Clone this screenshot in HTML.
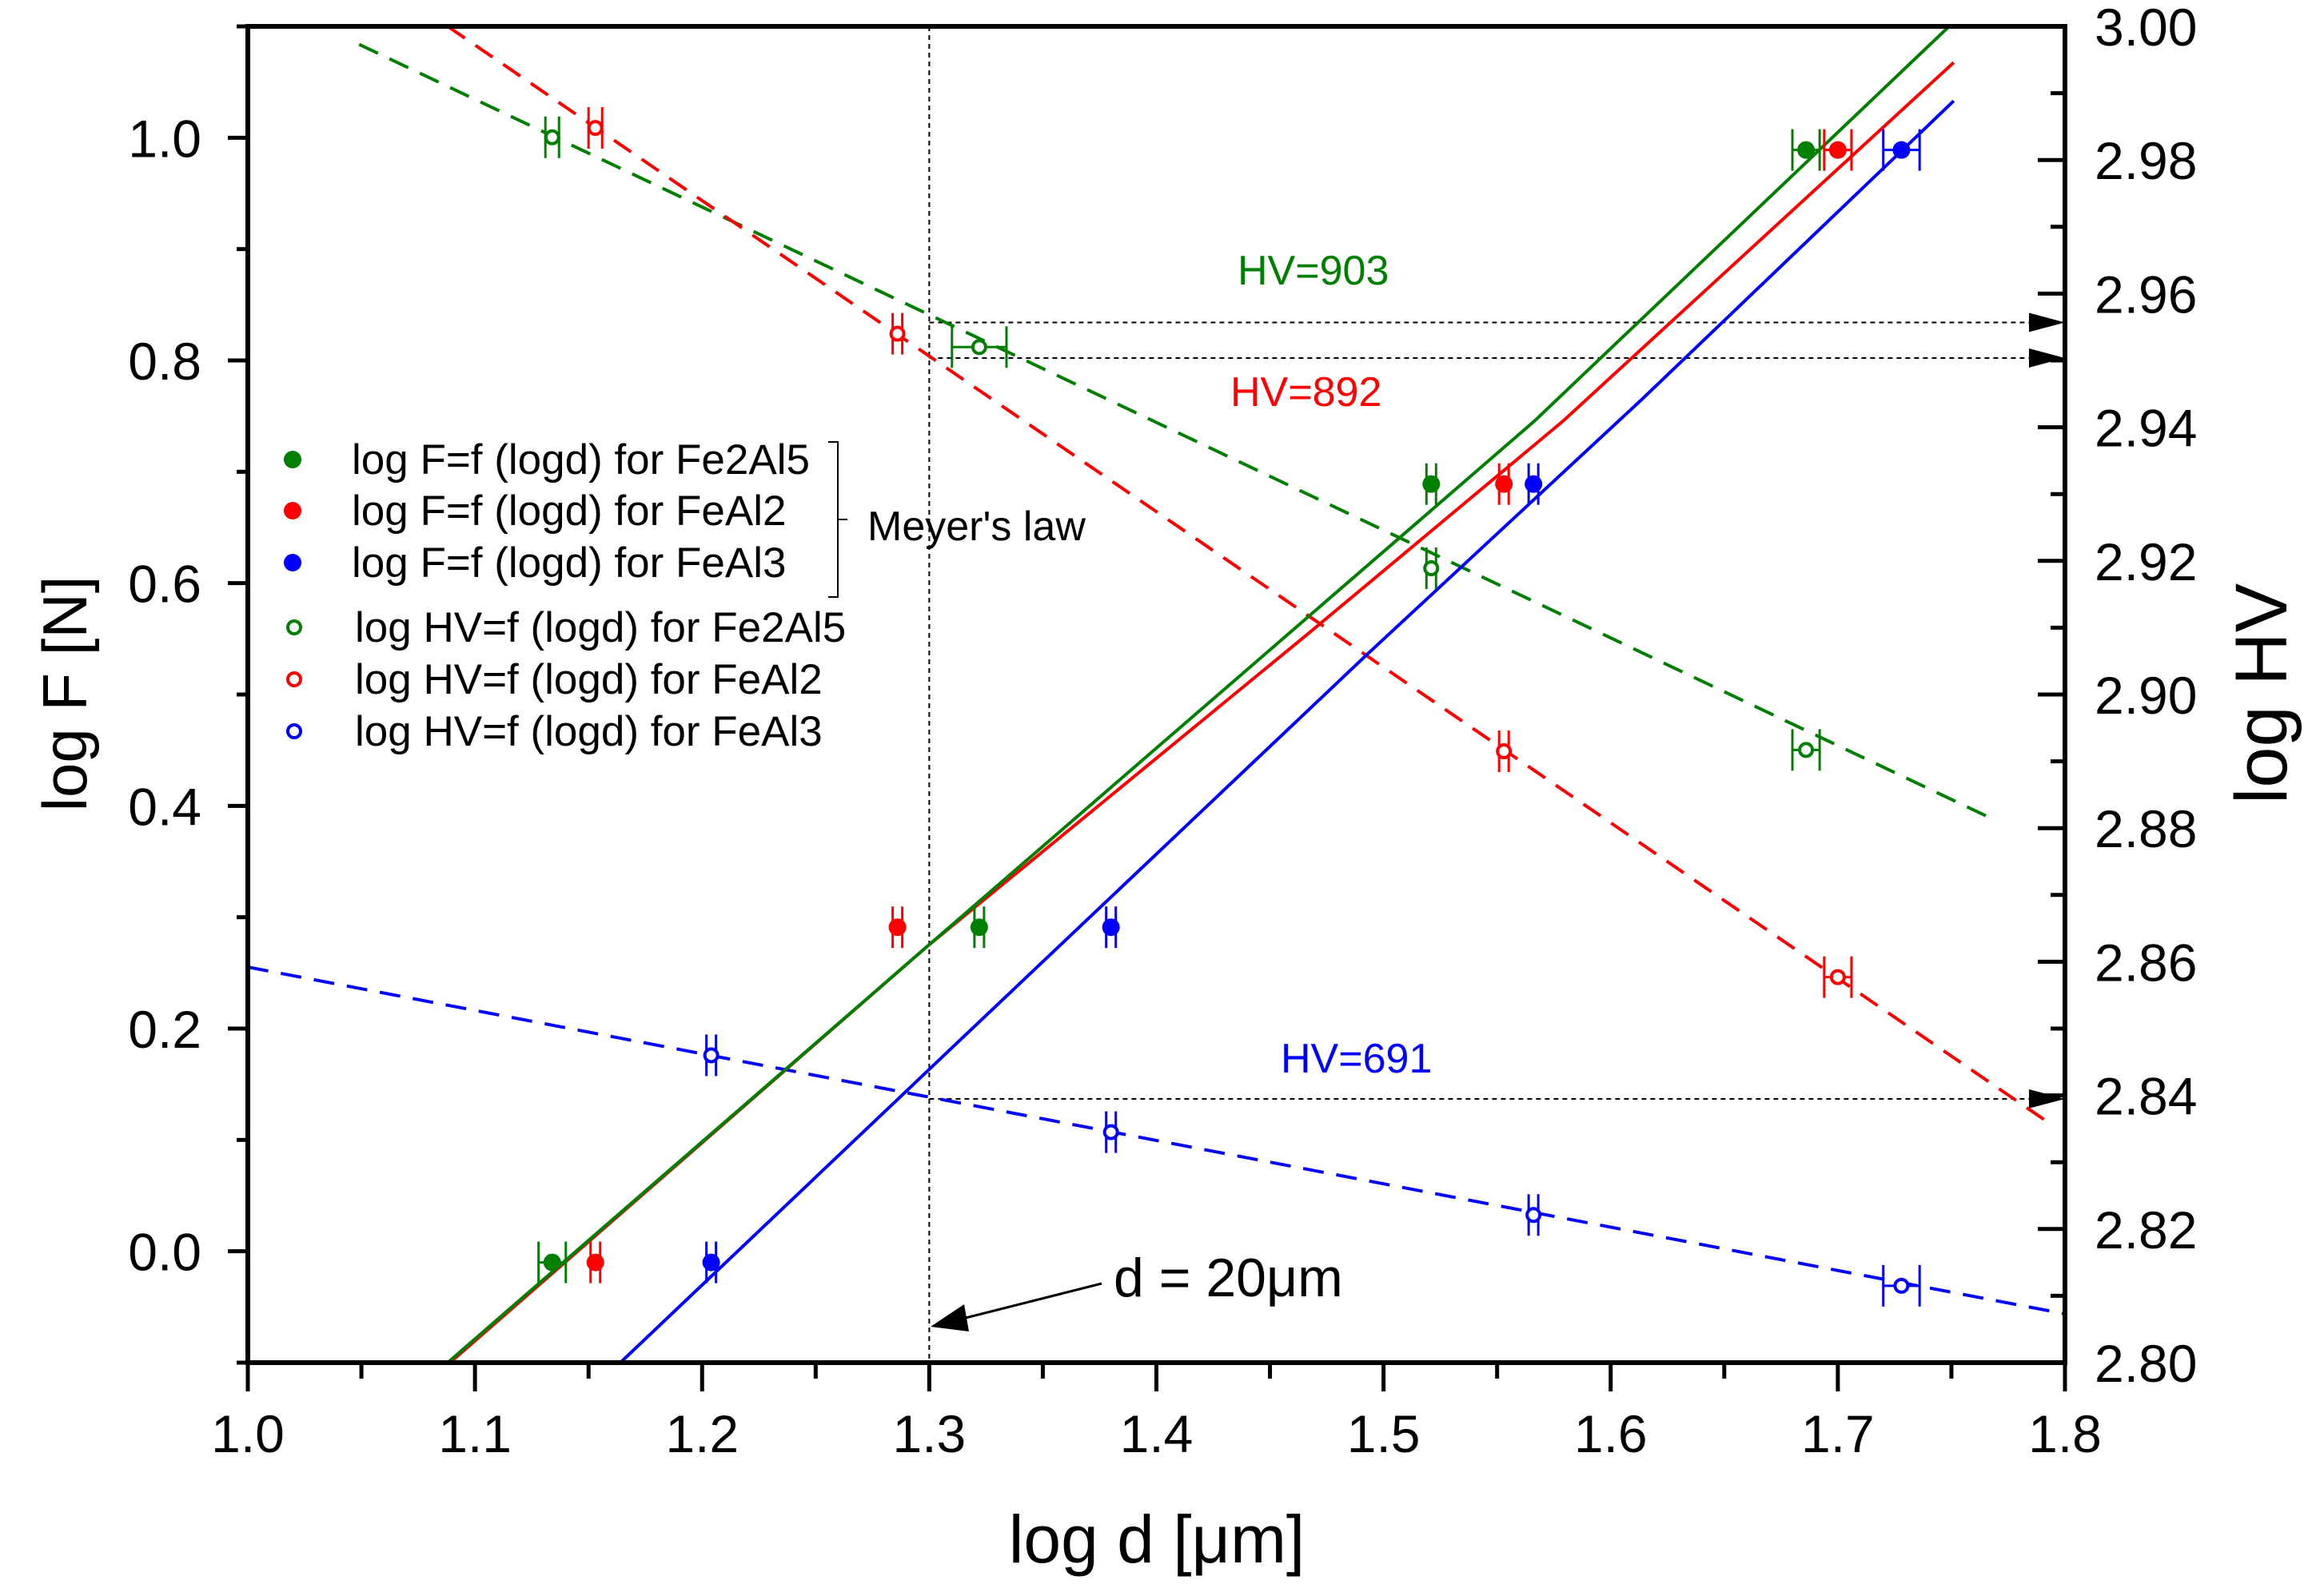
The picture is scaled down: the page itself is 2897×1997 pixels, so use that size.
<!DOCTYPE html>
<html><head><meta charset="utf-8"><style>
html,body{margin:0;padding:0;background:#fff;}
svg{display:block;font-family:"Liberation Sans",sans-serif;}
</style></head><body>
<svg id="chart" width="2897" height="1997" viewBox="0 0 2897 1997" xmlns="http://www.w3.org/2000/svg"></svg>
<script>
// ---- data ----
const fLogD_Fe2Al5 = [1.134, 1.322, 1.521, 1.686];
const fVal_Fe2Al5  = [-0.010, 0.291, 0.689, 0.989];
const fLogD_FeAl2  = [1.153, 1.286, 1.553, 1.700];
const fVal_FeAl2   = [-0.010, 0.291, 0.689, 0.989];
const fLogD_FeAl3  = [1.204, 1.380, 1.566, 1.728];
const fVal_FeAl3   = [-0.010, 0.291, 0.689, 0.989];
const hvLogD_Fe2Al5 = [1.134, 1.322, 1.521, 1.686];
const hvVal_Fe2Al5  = [2.9834, 2.9520, 2.9189, 2.8917];
const hvLogD_FeAl2  = [1.153, 1.286, 1.553, 1.700];
const hvVal_FeAl2   = [2.9848, 2.9540, 2.8915, 2.8577];
const hvLogD_FeAl3  = [1.204, 1.380, 1.566, 1.728];
const hvVal_FeAl3   = [2.8460, 2.8345, 2.8221, 2.8115];
const xErrF_Fe2Al5 = [0.006, 0.002, 0.002, 0.006];
const xErrF_FeAl2  = [0.002, 0.002, 0.002, 0.006];
const xErrF_FeAl3  = [0.002, 0.002, 0.002, 0.008];
const xErrHV_Fe2Al5 = [0.003, 0.012, 0.002, 0.006];
const xErrHV_FeAl2  = [0.003, 0.002, 0.002, 0.006];
const xErrHV_FeAl3  = [0.002, 0.002, 0.002, 0.008];
// fit curves: x values and y values
const fitFx_Fe2Al5 = [1.088, 1.2992, 1.5665, 1.749];
const fitFy_Fe2Al5 = [-0.1, 0.274, 0.7457, 1.1];
const fitFx_FeAl2  = [1.089, 1.2992, 1.4678, 1.5791, 1.751];
const fitFy_FeAl2  = [-0.1, 0.274, 0.5563, 0.7457, 1.0675];
const fitFx_FeAl3  = [1.164, 1.3141, 1.4923, 1.6133, 1.751];
const fitFy_FeAl3  = [-0.1, 0.1907, 0.5351, 0.7642, 1.033];
const fitHVx_Fe2Al5 = [1.049, 1.7655];
const fitHVy_Fe2Al5 = [2.9973, 2.8818];
const fitHVx_FeAl2  = [1.088, 1.795];
const fitHVy_FeAl2  = [3.000, 2.8354];
const fitHVx_FeAl3  = [1.000, 1.800];
const fitHVy_FeAl3  = [2.8592, 2.8073];
const hvMarks = [903, 892, 691];
const xTicks = ["1.0","1.1","1.2","1.3","1.4","1.5","1.6","1.7","1.8"];
const yLeftTicks = ["0.0","0.2","0.4","0.6","0.8","1.0"];
const yRightTicks = ["2.80","2.82","2.84","2.86","2.88","2.90","2.92","2.94","2.96","2.98","3.00"];

const L=310,R=2583,T=33,B=1705;
const X=v=>L+(v-1.0)/0.8*(R-L);
const YF=v=>B-(v+0.1)/1.2*(B-T);
const YH=v=>B-(v-2.8)/0.2*(B-T);
const svg=document.getElementById('chart');
const NS='http://www.w3.org/2000/svg';
function mk(tag,attrs,parent){const e=document.createElementNS(NS,tag);for(const k in attrs)e.setAttribute(k,attrs[k]);(parent||svg).appendChild(e);return e;}
function txt(s,attrs,name){const e=mk('text',attrs);e.textContent=s;


return e;}
const G='#007f00',RD='#ff0000',BL='#0000ff';

// reference lines
let e=mk('line',{x1:X(1.3),y1:T,x2:X(1.3),y2:B,stroke:'#000','stroke-width':2,'stroke-dasharray':'6,5'});


hvMarks.forEach(h=>{
  const y=YH(Math.log10(h));
  const l=mk('line',{x1:X(1.3),y1:y,x2:R-45,y2:y,stroke:'#000','stroke-width':2,'stroke-dasharray':'6,5'});
  
  
  const a=mk('polygon',{points:`${R-45},${y-12} ${R},${y} ${R-45},${y+12}`,fill:'#000'});
  
  
});

// fit lines
function fit(xs,ys,isHV,col,name){
  const yf=isHV?YH:YF;
  const p=xs.map((xv,i)=>X(xv)+','+yf(ys[i])).join(' ');
  const l=mk('polyline',{points:p,fill:'none',stroke:col,'stroke-width':4,'stroke-dasharray':isHV?'26,16':''});
  
  
}
fit(fitHVx_Fe2Al5,fitHVy_Fe2Al5,true,G,'fit-hv-fe2al5');
fit(fitHVx_FeAl2,fitHVy_FeAl2,true,RD,'fit-hv-feal2');
fit(fitHVx_FeAl3,fitHVy_FeAl3,true,BL,'fit-hv-feal3');
fit(fitFx_FeAl3,fitFy_FeAl3,false,BL,'fit-f-feal3');
fit(fitFx_FeAl2,fitFy_FeAl2,false,RD,'fit-f-feal2');
fit(fitFx_Fe2Al5,fitFy_Fe2Al5,false,G,'fit-f-fe2al5');

// points
function pts(xs,ys,errs,isHV,col,name){
  const yf=isHV?YH:YF;
  xs.forEach((xv,i)=>{
    const cx=X(xv),cy=yf(ys[i]),ex=Math.max(errs[i]/0.8*(R-L),6);
    const g=mk('g',{stroke:col,'stroke-width':3,fill:'none'});
    
    
    mk('line',{x1:cx-ex,y1:cy,x2:cx+ex,y2:cy},g);
    mk('line',{x1:cx-ex,y1:cy-26,x2:cx-ex,y2:cy+26},g);
    mk('line',{x1:cx+ex,y1:cy-26,x2:cx+ex,y2:cy+26},g);
    if(isHV) mk('circle',{cx:cx,cy:cy,r:8,'stroke-width':4,fill:'#fff'},g);
    else mk('circle',{cx:cx,cy:cy,r:11,fill:col,stroke:'none'},g);
  });
}
pts(hvLogD_Fe2Al5,hvVal_Fe2Al5,xErrHV_Fe2Al5,true,G,'hv-fe2al5');
pts(hvLogD_FeAl2,hvVal_FeAl2,xErrHV_FeAl2,true,RD,'hv-feal2');
pts(hvLogD_FeAl3,hvVal_FeAl3,xErrHV_FeAl3,true,BL,'hv-feal3');
pts(fLogD_Fe2Al5,fVal_Fe2Al5,xErrF_Fe2Al5,false,G,'f-fe2al5');
pts(fLogD_FeAl2,fVal_FeAl2,xErrF_FeAl2,false,RD,'f-feal2');
pts(fLogD_FeAl3,fVal_FeAl3,xErrF_FeAl3,false,BL,'f-feal3');

// frame
e=mk('rect',{x:L,y:T,width:R-L,height:B-T,fill:'none',stroke:'#000','stroke-width':6});



// x ticks
xTicks.forEach((t,i)=>{
  const v=parseFloat(t),x=X(v);
  mk('line',{x1:x,y1:B,x2:x,y2:B+36,stroke:'#000','stroke-width':5});
  txt(t,{x:x,y:1817,'font-size':66,'text-anchor':'middle'},'x-tick-label');
  if(i<xTicks.length-1){const xm=X(v+0.05);mk('line',{x1:xm,y1:B,x2:xm,y2:B+20,stroke:'#000','stroke-width':5});}
});
// left ticks
for(let k=-1;k<=11;k++){const v=k/10,y=YF(v);mk('line',{x1:L,y1:y,x2:L-(k%2===0?25:14),y2:y,stroke:'#000','stroke-width':5});}
yLeftTicks.forEach(t=>{txt(t,{x:252,y:YF(parseFloat(t))+24,'font-size':66,'text-anchor':'end'},'y-left-tick-label');});
// right ticks
for(let k=0;k<=20;k++){const y=B-k*(B-T)/20;mk('line',{x1:R,y1:y,x2:R-(k%2===0?34:18),y2:y,stroke:'#000','stroke-width':5});}
yRightTicks.forEach(t=>{txt(t,{x:2620,y:YH(parseFloat(t))+24,'font-size':66},'y-right-tick-label');});

// axis titles
txt('log d [μm]',{x:1447,y:1955,'font-size':84,'text-anchor':'middle'},'x-axis-title');
txt('log F [N]',{x:0,y:0,'font-size':78,'text-anchor':'middle',transform:'translate(108,868) rotate(-90)'},'y-left-axis-title');
txt('log HV',{x:0,y:0,'font-size':92,'text-anchor':'middle',transform:'translate(2860,868) rotate(-90)'},'y-right-axis-title');

// annotations
txt('HV=903',{x:1548,y:356,'font-size':52,fill:G},'hv903-label');
txt('HV=892',{x:1539,y:508,'font-size':52,fill:RD},'hv892-label');
txt('HV=691',{x:1602,y:1342,'font-size':52,fill:BL},'hv691-label');
txt('d = 20μm',{x:1393,y:1622,'font-size':68},'d20-label');
e=mk('line',{x1:1378,y1:1606,x2:1200,y2:1651,stroke:'#000','stroke-width':3});


e=mk('polygon',{points:'1164,1660 1206,1632 1212,1666',fill:'#000'});



// legend
const legRows=[
 ['log F=f (logd) for Fe2Al5',G,false,575],['log F=f (logd) for FeAl2',RD,false,639],['log F=f (logd) for FeAl3',BL,false,704],
 ['log HV=f (logd) for Fe2Al5',G,true,785],['log HV=f (logd) for FeAl2',RD,true,850],['log HV=f (logd) for FeAl3',BL,true,915]];
legRows.forEach(r=>{
  const c=r[2]?mk('circle',{cx:368,cy:r[3],r:8,fill:'#fff',stroke:r[1],'stroke-width':4}):mk('circle',{cx:366,cy:r[3],r:11,fill:r[1]});
  
  
  txt(r[0],{x:r[2]?444:440,y:r[3]+18,'font-size':53},'legend-entry');
});
e=mk('path',{d:'M1036,553 L1048,553 L1048,747 L1036,747 M1048,650 L1060,650',fill:'none',stroke:'#000','stroke-width':2});


txt("Meyer's law",{x:1085,y:676,'font-size':52},'meyers-law-label');
</script>
</body></html>
